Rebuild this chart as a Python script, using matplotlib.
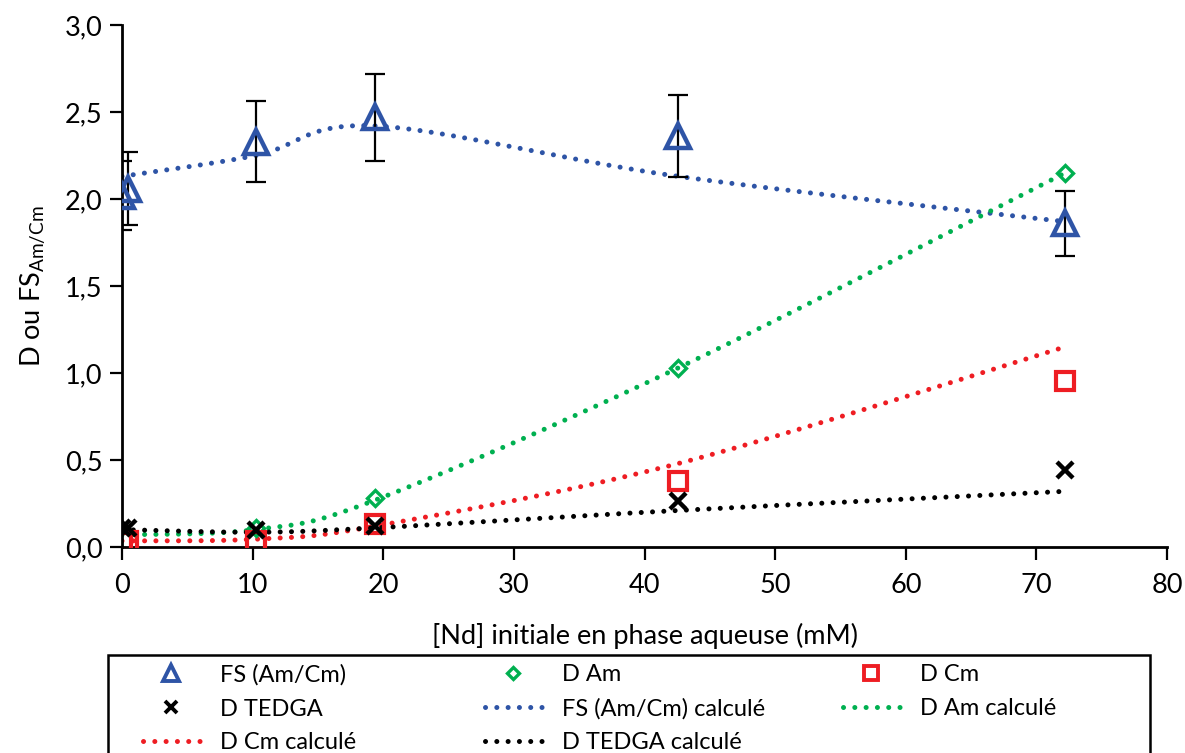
import numpy as np
import matplotlib
matplotlib.use("Agg")
import matplotlib.pyplot as plt
from matplotlib.patches import Rectangle
from matplotlib.ticker import FuncFormatter

plt.rcParams['font.family'] = ['Lato', 'DejaVu Sans']

# ---- data ----
x_exp = [0.0, 0.45, 10.25, 19.4, 42.6, 72.2]
fs_exp = [2.02, 2.06, 2.33, 2.47, 2.36, 1.86]
fs_err = [0.20, 0.21, 0.235, 0.25, 0.235, 0.185]
dcm_exp = [0.03, 0.035, 0.035, 0.13, 0.38, 0.955]
dtedga_exp = [0.11, 0.11, 0.10, 0.12, 0.265, 0.44]

x_am = [10.25, 19.4, 42.6, 72.2]
dam_exp = [0.11, 0.28, 1.03, 2.15]

x_calc = [0.0, 10.25, 19.4, 42.6, 72.2]
fs_calc = [2.13, 2.25, 2.42, 2.13, 1.87]
dam_calc = [0.07, 0.10, 0.27, 1.03, 2.15]
dcm_calc = [0.035, 0.045, 0.12, 0.48, 1.15]
dtedga_calc = [0.10, 0.085, 0.11, 0.21, 0.32]

xticks = [0, 10, 20, 30, 40, 50, 60, 70, 80]
yticks = [0.0, 0.5, 1.0, 1.5, 2.0, 2.5, 3.0]

C_BLUE = '#2E54A6'
C_GREEN = '#00B050'
C_RED = '#EE1D23'
C_BLACK = '#000000'

FS = 19.5
LFS = 17


def smooth(xs, ys, sx=1045 / 80, sy=522 / 3, n=40):
    """Excel-like smoothed line (uniform Catmull-Rom as Bezier), computed in screen-like units."""
    P = np.column_stack([np.asarray(xs) * sx, np.asarray(ys) * sy])
    out = [P[0]]
    for i in range(len(P) - 1):
        p0 = P[i - 1] if i > 0 else P[i]
        p1, p2 = P[i], P[i + 1]
        p3 = P[i + 2] if i + 2 < len(P) else P[i + 1]
        c1 = p1 + (p2 - p0) / 6
        c2 = p2 - (p3 - p1) / 6
        t = np.linspace(0, 1, n)[1:, None]
        seg = ((1 - t) ** 3) * p1 + 3 * ((1 - t) ** 2) * t * c1 + 3 * (1 - t) * t ** 2 * c2 + t ** 3 * p2
        out.extend(seg)
    out = np.array(out)
    return out[:, 0] / sx, out[:, 1] / sy


fig = plt.figure(figsize=(11.85, 7.53), dpi=100)
ax = fig.add_axes([122 / 1185, 1 - 547 / 753, (1167 - 122) / 1185, (547 - 25) / 753])

dot = dict(linestyle=(0, (0.01, 2.25)), linewidth=3.6, dash_capstyle='round')

l_fs_c, = ax.plot(*smooth(x_calc, fs_calc), color=C_BLUE, **dot, zorder=2)
l_am_c, = ax.plot(*smooth(x_calc, dam_calc), color=C_GREEN, **dot, zorder=2)
l_cm_c, = ax.plot(*smooth(x_calc, dcm_calc), color=C_RED, **dot, zorder=2)
l_te_c, = ax.plot(*smooth(x_calc, dtedga_calc), color=C_BLACK, **dot, zorder=2)

ax.errorbar(x_exp, fs_exp, yerr=fs_err, fmt='none', ecolor='black',
            elinewidth=1.6, capsize=7, capthick=1.6, zorder=3)
h_fs, = ax.plot(x_exp, fs_exp, linestyle='none', marker='^', markersize=17,
                markerfacecolor='none', markeredgecolor=C_BLUE, markeredgewidth=3.2, zorder=4)
h_am, = ax.plot(x_am, dam_exp, linestyle='none', marker='D', markersize=8,
                markerfacecolor='none', markeredgecolor=C_GREEN, markeredgewidth=2.4, zorder=4)
h_cm, = ax.plot(x_exp, dcm_exp, linestyle='none', marker='s', markersize=13,
                markerfacecolor='none', markeredgecolor=C_RED, markeredgewidth=3.0, zorder=4)
h_te, = ax.plot(x_exp, dtedga_exp, linestyle='none', marker='x', markersize=11,
                markeredgecolor=C_BLACK, markeredgewidth=3.2, zorder=5)

ax.set_xlim(0, 80)
ax.set_ylim(0, 3.0)
ax.set_xticks(xticks)
ax.set_yticks(yticks)
ax.yaxis.set_major_formatter(FuncFormatter(lambda v, p: f"{v:.1f}".replace('.', ',')))
ax.tick_params(axis='both', direction='out', length=9, width=1.6, labelsize=FS, color='black')
ax.tick_params(axis='x', pad=10)
ax.tick_params(axis='y', pad=5)
for s in ['top', 'right']:
    ax.spines[s].set_visible(False)
for s in ['left', 'bottom']:
    ax.spines[s].set_linewidth(2.0)
    ax.spines[s].set_clip_on(False)

ax.set_xlabel('[Nd] initiale en phase aqueuse (mM)', fontsize=FS, labelpad=18)
ax.set_ylabel(r'D ou FS$_{\mathregular{Am/Cm}}$', fontsize=FS, labelpad=12)

# ---- legend ----
fig.add_artist(Rectangle((108 / 1185, -0.05), (1150 - 108) / 1185, 0.05 + (753 - 655) / 753,
                         transform=fig.transFigure, fill=False, edgecolor='black',
                         linewidth=1.8, clip_on=False))

leg_kw = dict(frameon=False, fontsize=LFS, handlelength=2.4, handletextpad=0.85,
              labelspacing=0.55, borderpad=0, borderaxespad=0, numpoints=1,
              loc='upper left')
cols = [
    ([h_fs, h_te, l_cm_c], ['FS (Am/Cm)', 'D TEDGA', 'D Cm calculé'], 143),
    ([h_am, l_fs_c, l_te_c], ['D Am', 'FS (Am/Cm) calculé', 'D TEDGA calculé'], 485),
    ([h_cm, l_am_c], ['D Cm', 'D Am calculé'], 843),
]
small = {'^': (11, 2.8), 'D': (6.5, 2.4), 's': (9.5, 2.8), 'x': (8.5, 2.8)}
for hs, ls, xp in cols:
    lg = fig.legend(hs, ls, bbox_to_anchor=(xp / 1185, 1 - 664 / 753), **leg_kw)
    lg.set_zorder(10)
    for h in lg.legend_handles:
        m = h.get_marker()
        if m in small:
            h.set_markersize(small[m][0])
            h.set_markeredgewidth(small[m][1])

fig.savefig('out.png', dpi=100)
